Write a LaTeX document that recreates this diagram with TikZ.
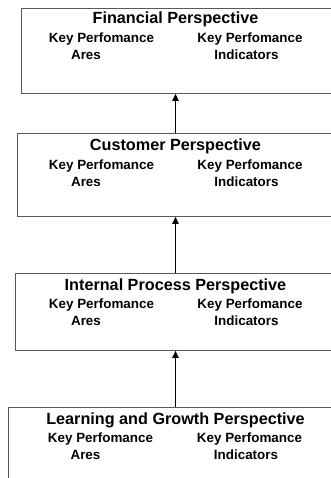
\documentclass[tikz,border=0pt]{standalone}
\usepackage{fontspec}
\setmainfont{Liberation Sans}
\usetikzlibrary{arrows.meta}
\tikzset{
  panel/.style={draw=black!65, line width=0.9pt, anchor=north west,
    minimum width=340pt, inner sep=0pt},
  head/.style={font=\bfseries\fontsize{16.2}{19}\selectfont, inner sep=0pt, anchor=base},
  kpa/.style={font=\bfseries\fontsize{13.4}{16}\selectfont, inner sep=0pt, anchor=base},
  link/.style={line width=1.1pt, -{Triangle[length=7pt,width=6.5pt]}}
}
\begin{document}
\begin{tikzpicture}[x=1pt,y=1pt]
\useasboundingbox (0,0) rectangle (331,-478);
\clip (0,0) rectangle (331,-478);
% financial
\node[panel, minimum height=85pt] (fin) at (21,-8) {};
\node[head] (finT) at (175.5,-24) {Financial Perspective};
\node[kpa] (finA) at (101.5,-42.5) {Key Perfomance};
\node[kpa] (finB) at (86,-59.5) {Ares};
\node[kpa] (finC) at (250,-42.5) {Key Perfomance};
\node[kpa] (finD) at (246.5,-59.5) {Indicators};
% customer
\node[panel, minimum height=83pt] (cus) at (17,-133) {};
\node[head] (cusT) at (175.5,-151) {Customer Perspective};
\node[kpa] (cusA) at (101.5,-169.5) {Key Perfomance};
\node[kpa] (cusB) at (86,-186.5) {Ares};
\node[kpa] (cusC) at (250,-169.5) {Key Perfomance};
\node[kpa] (cusD) at (246.5,-186.5) {Indicators};
% internal process
\node[panel, minimum height=77pt] (int) at (15,-273) {};
\node[head] (intT) at (175.5,-290) {Internal Process Perspective};
\node[kpa] (intA) at (101.5,-308) {Key Perfomance};
\node[kpa] (intB) at (86,-325) {Ares};
\node[kpa] (intC) at (250,-308) {Key Perfomance};
\node[kpa] (intD) at (246.5,-325) {Indicators};
% learning and growth
\node[panel, minimum height=100pt] (lrn) at (8,-407) {};
\node[head] (lrnT) at (175.5,-424) {Learning and Growth Perspective};
\node[kpa] (lrnA) at (100.5,-442.5) {Key Perfomance};
\node[kpa] (lrnB) at (85.5,-459.5) {Ares};
\node[kpa] (lrnC) at (249.5,-442.5) {Key Perfomance};
\node[kpa] (lrnD) at (246,-459.5) {Indicators};
% links upward
\draw[link] (cus.north -| finT) -- (fin.south -| finT);
\draw[link] (int.north -| cusT) -- (cus.south -| cusT);
\draw[link] (lrn.north -| intT) -- (int.south -| intT);
\end{tikzpicture}
\end{document}
